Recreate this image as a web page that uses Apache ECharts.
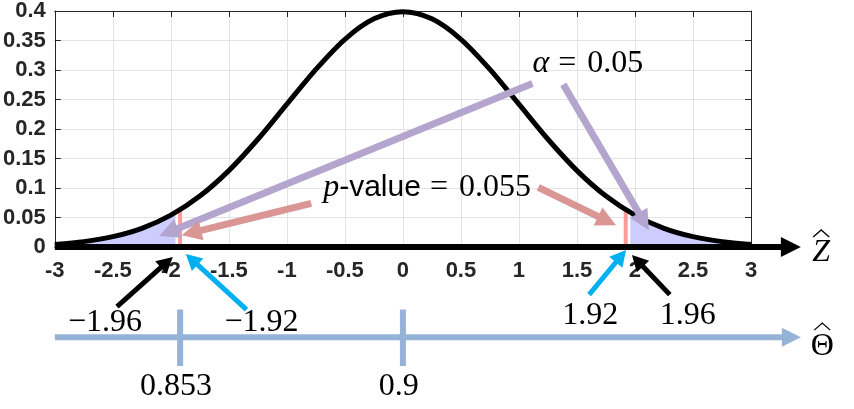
<!DOCTYPE html>
<html>
<head>
<meta charset="utf-8">
<title>Z test</title>
<script src="https://cdn.jsdelivr.net/npm/echarts@6/dist/echarts.min.js"></script>
<style>
  html, body { margin: 0; padding: 0; background: #fff; }
  #main { width: 854px; height: 409px; }
</style>
</head>
<body>
<div id="main"></div>
<script>
// standard normal density, read at 0.25 steps
var zValues = [-3, -2.75, -2.5, -2.25, -2, -1.75, -1.5, -1.25, -1, -0.75, -0.5, -0.25, 0,
               0.25, 0.5, 0.75, 1, 1.25, 1.5, 1.75, 2, 2.25, 2.5, 2.75, 3]
var pdfValues = [0.0044, 0.0091, 0.0175, 0.0317, 0.0540, 0.0863, 0.1295, 0.1826, 0.2420, 0.3011, 0.3521, 0.3867, 0.3989,
                 0.3867, 0.3521, 0.3011, 0.2420, 0.1826, 0.1295, 0.0863, 0.0540, 0.0317, 0.0175, 0.0091, 0.0044]
// right tail beyond the critical value (left tail is the mirror)
var tailZ = [1.96, 2, 2.25, 2.5, 2.75, 3]
var tailPdf = [0.0584, 0.0540, 0.0317, 0.0175, 0.0091, 0.0044]
var critZ = 1.96
var obsZ = 1.92
var obsPdf = 0.0632
var thetaTickZ = [-1.92, 0]
var thetaTickLabels = ['0.853', '0.9']

var pair = function (xs, ys) { return xs.map(function (x, i) { return [x, ys[i]] }) }
var curve = pair(zValues, pdfValues)
var rightTail = pair(tailZ, tailPdf)
var leftTail = rightTail.map(function (p) { return [-p[0], p[1]] }).reverse()

var serif = '"Liberation Serif", "DejaVu Serif", serif'
var tickFont = { fontFamily: '"Liberation Sans", Arial, sans-serif', fontWeight: 'bold', fontSize: 22, color: '#262626' }

var chart = echarts.init(document.getElementById('main'))

chart.setOption({
  animation: false,
  grid: { left: 54, right: 103, top: 9, bottom: 162 },
  xAxis: [{
    type: 'value', min: -3, max: 3, interval: 0.5,
    axisLine: { show: true, onZero: false, lineStyle: { color: '#262626' } },
    axisTick: { show: false },
    axisLabel: Object.assign({ margin: 13 }, tickFont),
    splitLine: { show: true, lineStyle: { color: '#e3e3e3', width: 1 } }
  }, {
    type: 'value', min: -3, max: 3, interval: 0.5, position: 'top',
    axisLine: { show: true, onZero: false, lineStyle: { color: '#262626' } },
    axisTick: { show: true, inside: true, length: 6, lineStyle: { color: '#262626' } },
    axisLabel: { show: false },
    splitLine: { show: false }
  }],
  yAxis: [{
    type: 'value', min: 0, max: 0.4, interval: 0.05,
    axisLine: { show: true, onZero: false, lineStyle: { color: '#262626' } },
    axisTick: { show: true, inside: true, length: 6, lineStyle: { color: '#262626' } },
    axisLabel: Object.assign({ margin: 9 }, tickFont),
    splitLine: { show: true, lineStyle: { color: '#e3e3e3', width: 1 } }
  }, {
    type: 'value', min: 0, max: 0.4, interval: 0.05, position: 'right',
    axisLine: { show: true, onZero: false, lineStyle: { color: '#262626' } },
    axisTick: { show: true, inside: true, length: 6, lineStyle: { color: '#262626' } },
    axisLabel: { show: false },
    splitLine: { show: false }
  }],
  series: [
    { type: 'line', data: leftTail, smooth: 0.3, symbol: 'none', lineStyle: { width: 0 },
      areaStyle: { color: '#ccccff', opacity: 1 }, z: 1 },
    { type: 'line', data: rightTail, smooth: 0.3, symbol: 'none', lineStyle: { width: 0 },
      areaStyle: { color: '#ccccff', opacity: 1 }, z: 1 },
    { type: 'line', data: [[-obsZ, 0], [-obsZ, obsPdf]], symbol: 'none',
      lineStyle: { color: '#ff9a9a', width: 4 }, z: 2 },
    { type: 'line', data: [[obsZ, 0], [obsZ, obsPdf]], symbol: 'none',
      lineStyle: { color: '#ff9a9a', width: 4 }, z: 2 },
    { type: 'line', data: curve, smooth: 0.3, symbol: 'none',
      lineStyle: { color: '#000', width: 5 }, z: 3 }
  ]
})

// annotations, placed in data units of the Z axis
var arrows = [
  { from: [-3, 0], to: [3.43, 0], color: '#000', w: 6, head: 20, hw: 20 },
  { from: [-3, -0.153], to: [3.43, -0.153], color: '#95b3d7', w: 6, head: 19, hw: 19 },
  { from: [1.116, 0.277], to: [-2.10, 0.0185], color: '#b4a5cf', w: 7, head: 20, hw: 20 },
  { from: [1.382, 0.2756], to: [2.12, 0.0286], color: '#b4a5cf', w: 7, head: 20, hw: 20 },
  { from: [-0.79, 0.074], to: [-1.906, 0.020], color: '#d99694', w: 7, head: 20, hw: 20 },
  { from: [1.167, 0.101], to: [1.837, 0.037], color: '#d99694', w: 7, head: 20, hw: 20 },
  { from: [-2.464, -0.101], to: [-1.983, -0.0168], color: '#000', w: 5, head: 16, hw: 17 },
  { from: [2.30, -0.0807], to: [1.974, -0.0134], color: '#000', w: 5, head: 16, hw: 17 },
  { from: [-1.348, -0.106], to: [-1.871, -0.0118], color: '#00b0f0', w: 5, head: 16, hw: 17 },
  { from: [1.605, -0.0807], to: [1.923, -0.005], color: '#00b0f0', w: 5, head: 16, hw: 17 }
]

var labels = [
  { at: [1.116, 0.311], text: '{i|α}{e|=}0.05', align: 'left' },
  { at: [-0.687, 0.1008], text: '{i|p}{s|-value}{e|=}0.055', align: 'left' },
  { at: [-2.567, -0.128], text: '−1.96', align: 'center' },
  { at: [-1.219, -0.128], text: '−1.92', align: 'center' },
  { at: [1.614, -0.116], text: '1.92', align: 'center' },
  { at: [2.455, -0.116], text: '1.96', align: 'center' },
  { at: [3.605, -0.0101], text: '{i|Z}', align: 'center', hat: true },
  { at: [3.614, -0.168], text: 'Θ', align: 'center', hat: true }
]

function px(p) { return chart.convertToPixel({ gridIndex: 0 }, p) }

var graphics = []

arrows.forEach(function (a) {
  var p0 = px(a.from), p1 = px(a.to)
  var dx = p1[0] - p0[0], dy = p1[1] - p0[1]
  var len = Math.sqrt(dx * dx + dy * dy)
  var ux = dx / len, uy = dy / len
  var bx = p1[0] - ux * a.head, by = p1[1] - uy * a.head
  graphics.push({
    type: 'line', z: 10,
    shape: { x1: p0[0], y1: p0[1], x2: bx + ux * 2, y2: by + uy * 2 },
    style: { stroke: a.color, lineWidth: a.w }
  })
  graphics.push({
    type: 'polygon', z: 10,
    shape: { points: [[p1[0], p1[1]], [bx - uy * a.hw / 2, by + ux * a.hw / 2], [bx + uy * a.hw / 2, by - ux * a.hw / 2]] },
    style: { fill: a.color }
  })
})

// ticks on the theta axis
thetaTickZ.forEach(function (z, i) {
  var top = px([z, -0.106]), bot = px([z, -0.2017])
  graphics.push({
    type: 'line', z: 10,
    shape: { x1: top[0], y1: top[1], x2: bot[0], y2: bot[1] },
    style: { stroke: '#95b3d7', lineWidth: 6 }
  })
  var lp = px([z - 0.035, -0.236])
  graphics.push({
    type: 'text', z: 11, x: lp[0], y: lp[1],
    style: { text: thetaTickLabels[i], font: '32px ' + serif, fill: '#000', align: 'center', verticalAlign: 'middle' }
  })
})

labels.forEach(function (l) {
  var p = px(l.at)
  graphics.push({
    type: 'text', z: 11, x: p[0], y: p[1],
    style: {
      text: l.text, fontSize: 32, fontFamily: serif, fill: '#000',
      align: l.align, verticalAlign: 'middle',
      rich: {
        i: { fontSize: 32, fontFamily: serif, fontStyle: 'italic' },
        s: { fontSize: 30, fontFamily: '"Liberation Sans", Arial, sans-serif' },
        e: { fontSize: 32, fontFamily: serif, padding: [0, 11, 0, 9] }
      }
    }
  })
  if (l.hat) {
    graphics.push({
      type: 'polyline', z: 11,
      shape: { points: [[p[0] - 8, p[1] - 16], [p[0], p[1] - 23], [p[0] + 8, p[1] - 16]] },
      style: { stroke: '#000', lineWidth: 1.3, fill: null }
    })
  }
})

chart.setOption({ graphic: graphics })
</script>
</body>
</html>
